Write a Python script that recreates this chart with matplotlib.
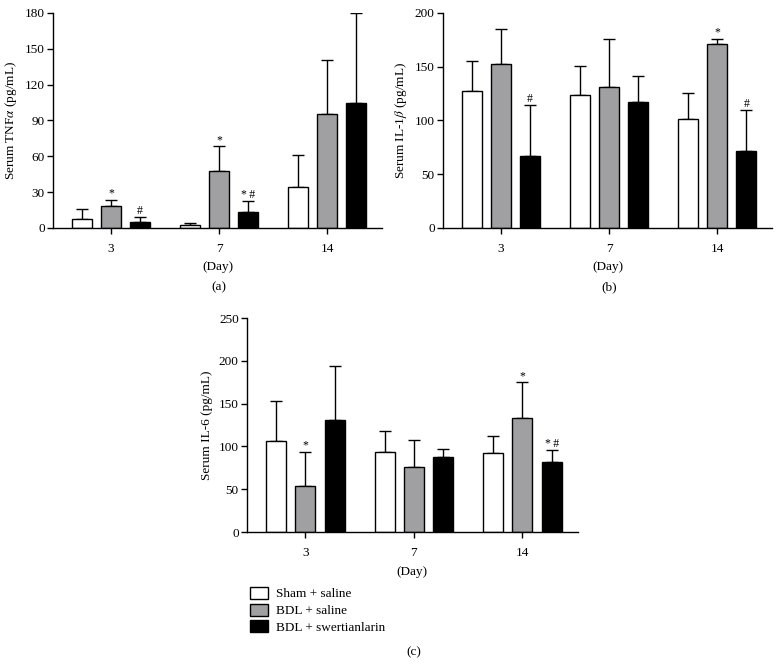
import matplotlib
matplotlib.use("Agg")
import matplotlib.pyplot as plt
import numpy as np
from matplotlib.patches import Patch

plt.rcParams['font.family'] = ['Liberation Serif', 'DejaVu Serif']
plt.rcParams['mathtext.fontset'] = 'stix'

days = ['3', '7', '14']
groups = ['Sham + saline', 'BDL + saline', 'BDL + swertianlarin']
colors = ['#ffffff', '#a0a0a3', '#000000']

# TNF-alpha
tnf_sham = [7.8, 2.2, 34.4]
tnf_sham_err = [7.9, 2.3, 26.4]
tnf_bdl = [18.5, 48.0, 95.2]
tnf_bdl_err = [5.3, 20.3, 45.8]
tnf_swe = [5.0, 13.2, 105.0]
tnf_swe_err = [4.5, 9.8, 75.0]
tnf_marks = [['', '', ''], ['*', '*', ''], ['#', '*#', '']]

# IL-1 beta
il1_sham = [127.4, 124.0, 101.7]
il1_sham_err = [27.9, 26.7, 23.9]
il1_bdl = [152.9, 131.5, 171.2]
il1_bdl_err = [32.2, 44.3, 4.9]
il1_swe = [66.7, 117.2, 71.6]
il1_swe_err = [47.7, 24.5, 37.9]
il1_marks = [['', '', ''], ['', '', '*'], ['#', '', '#']]

# IL-6
il6_sham = [106.4, 94.0, 92.0]
il6_sham_err = [46.6, 24.4, 20.6]
il6_bdl = [53.2, 76.5, 133.5]
il6_bdl_err = [40.8, 31.0, 41.2]
il6_swe = [130.8, 88.0, 81.5]
il6_swe_err = [62.9, 9.4, 14.4]
il6_marks = [['', '', ''], ['*', '', '*'], ['', '', '*#']]

fig = plt.figure(figsize=(7.8, 6.66), dpi=100)

FS = 9.5


def panel(rect, means, errs, marks, ylim, yticks, ylabel, tag, tag_y):
    ax = fig.add_axes(rect)
    x = np.arange(len(days))
    off = 0.27
    w = 0.185
    for i, (m, e, mk) in enumerate(zip(means, errs, marks)):
        xs = x + (i - 1) * off
        ax.bar(xs, m, width=w, color=colors[i], edgecolor='black', linewidth=1.0, zorder=2)
        ax.errorbar(xs, m, yerr=[np.zeros(len(e)), e], fmt='none', ecolor='black',
                    elinewidth=1.0, capsize=4, capthick=1.0, zorder=1)
        for xi, mi, ei, s in zip(xs, m, e, mk):
            if s:
                lab = s.replace('*#', '*\u2009#')
                ax.annotate(lab, (xi, mi + ei), xytext=(0, 0), textcoords='offset points',
                            ha='center', va='bottom', fontsize=FS - 1)
    ax.set_xlim(-0.537, 2.51)
    ax.set_ylim(*ylim)
    ax.set_yticks(yticks)
    ax.set_xticks(x)
    ax.set_xticklabels(days, fontsize=FS)
    ax.tick_params(axis='y', labelsize=FS, length=4, width=1.0, pad=2)
    ax.tick_params(axis='x', length=4, width=1.0, pad=7)
    for s in ['top', 'right']:
        ax.spines[s].set_visible(False)
    for s in ['left', 'bottom']:
        ax.spines[s].set_linewidth(1.0)
    ax.set_ylabel(ylabel, fontsize=FS, labelpad=4)
    ax.set_xlabel('(Day)', fontsize=FS, labelpad=4.5)
    cx = rect[0] + rect[2] * (0.537 + 1) / (0.537 + 2.51)
    fig.text(cx, tag_y, tag, ha='center', va='center', fontsize=FS)
    return ax


panel([0.068, 0.6577, 0.422, 0.3228],
      [tnf_sham, tnf_bdl, tnf_swe], [tnf_sham_err, tnf_bdl_err, tnf_swe_err], tnf_marks,
      (0, 180), [0, 30, 60, 90, 120, 150, 180], r'Serum TNF$\alpha$ (pg/mL)', '(a)', 1 - 287 / 666)

panel([0.568, 0.6577, 0.422, 0.3228],
      [il1_sham, il1_bdl, il1_swe], [il1_sham_err, il1_bdl_err, il1_swe_err], il1_marks,
      (0, 200), [0, 50, 100, 150, 200], r'Serum IL-1$\beta$ (pg/mL)', '(b)', 1 - 287 / 666)

panel([0.3167, 0.2012, 0.424, 0.3213],
      [il6_sham, il6_bdl, il6_swe], [il6_sham_err, il6_bdl_err, il6_swe_err], il6_marks,
      (0, 250), [0, 50, 100, 150, 200, 250], 'Serum IL-6 (pg/mL)', '(c)', 1 - 652 / 666)

handles = [Patch(facecolor=c, edgecolor='black', linewidth=1.0) for c in colors]
fig.legend(handles, groups, loc='upper left', bbox_to_anchor=(250 / 780, 1 - 587 / 666),
           frameon=False, fontsize=FS, handlelength=1.4, handleheight=1.0,
           handletextpad=0.6, labelspacing=0.25, borderaxespad=0, borderpad=0)

fig.savefig('out.png', dpi=100)
